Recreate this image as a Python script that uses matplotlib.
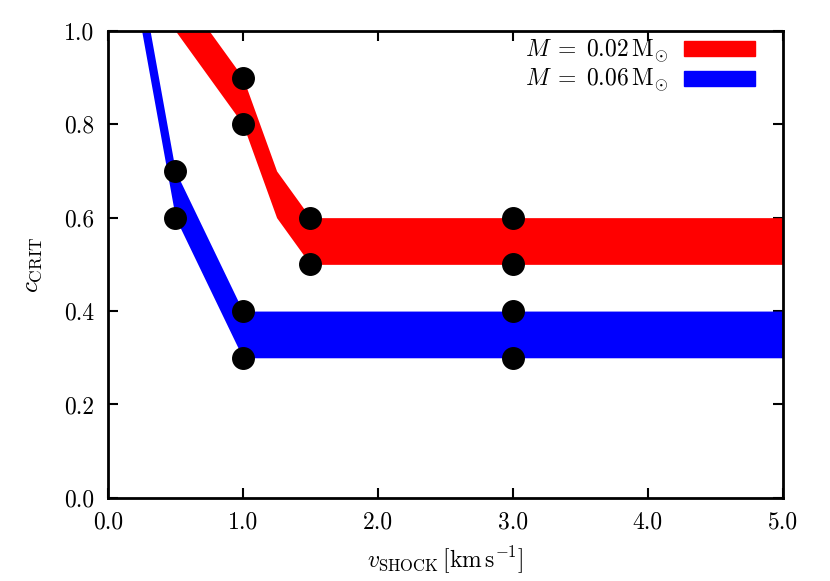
import numpy as np
import matplotlib
matplotlib.use("Agg")
import matplotlib.pyplot as plt
from matplotlib.patches import Patch

plt.rcParams["font.family"] = "serif"
plt.rcParams["font.serif"] = ["cmr10", "DejaVu Serif"]
plt.rcParams["mathtext.fontset"] = "cm"
plt.rcParams["axes.formatter.use_mathtext"] = True

# band edges, M = 0.02 Msun (red)
v_red = [0.5, 1.0, 1.25, 1.5, 2.0, 3.0, 4.0, 5.0]
lo_red = [1.0, 0.8, 0.6, 0.5, 0.5, 0.5, 0.5, 0.5]
hi_red = [1.1, 0.9, 0.7, 0.6, 0.6, 0.6, 0.6, 0.6]

# band edges, M = 0.06 Msun (blue)
v_blue = [0.25, 0.5, 1.0, 2.0, 3.0, 4.0, 5.0]
lo_blue = [1.0, 0.6, 0.3, 0.3, 0.3, 0.3, 0.3]
hi_blue = [1.1, 0.7, 0.4, 0.4, 0.4, 0.4, 0.4]

# simulated runs
v_pts = [0.5, 0.5, 1.0, 1.0, 1.0, 1.0, 1.5, 1.5, 3.0, 3.0, 3.0, 3.0]
c_pts = [0.7, 0.6, 0.9, 0.8, 0.4, 0.3, 0.6, 0.5, 0.6, 0.5, 0.4, 0.3]

xticks = [0.0, 1.0, 2.0, 3.0, 4.0, 5.0]
yticks = [0.0, 0.2, 0.4, 0.6, 0.8, 1.0]

RED = "#ff0000"
BLUE = "#0000ff"

fig = plt.figure(figsize=(8.3, 5.81), dpi=100)
ax = fig.add_axes([0.130, 0.143, 0.813, 0.804])

ax.fill_between(v_red, lo_red, hi_red, color=RED, lw=0, zorder=2)
ax.fill_between(v_blue, lo_blue, hi_blue, color=BLUE, lw=0, zorder=2)
ax.plot(v_pts, c_pts, "o", color="black", ms=15.5, zorder=3, clip_on=False)

ax.set_xlim(0, 5)
ax.set_ylim(0, 1)
ax.set_xticks(xticks)
ax.set_yticks(yticks)
ax.set_xticklabels([f"{t:.1f}" for t in xticks])
ax.set_yticklabels([f"{t:.1f}" for t in yticks])
ax.tick_params(direction="in", length=7, width=1.5, top=True, right=True,
               labelsize=17, pad=10)
for sp in ax.spines.values():
    sp.set_linewidth(2)

ax.set_xlabel(r"$v_{\rm SHOCK}\,[{\rm km\,s^{-1}}]$", fontsize=17, labelpad=8)
ax.set_ylabel(r"$c_{\rm CRIT}$", fontsize=18, labelpad=14)

handles = [Patch(color=RED), Patch(color=BLUE)]
labels = [r"$M\;=\;0.02\,{\rm M}_{\odot}$", r"$M\;=\;0.06\,{\rm M}_{\odot}$"]
ax.legend(handles, labels, loc="upper right", frameon=False, markerfirst=False,
          fontsize=17, handlelength=3.0, handleheight=0.6, labelspacing=0.1,
          handletextpad=0.7, borderaxespad=0.0, bbox_to_anchor=(0.973, 1.005))

fig.savefig("out.png", dpi=100)
